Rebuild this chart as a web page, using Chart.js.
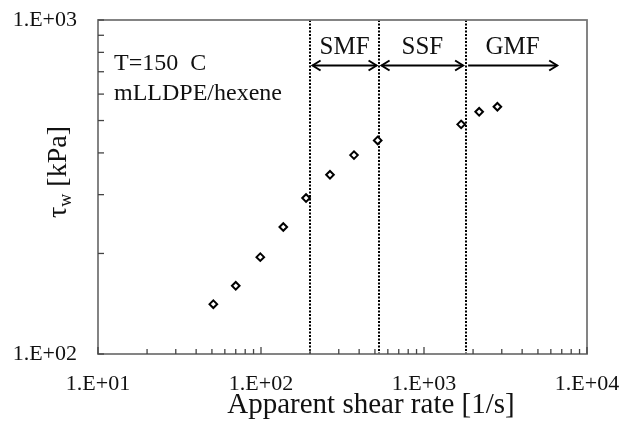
<!DOCTYPE html>
<html>
<head>
<meta charset="utf-8">
<script src="https://cdn.jsdelivr.net/npm/chart.js@4.4.1/dist/chart.umd.min.js"></script>
<style>
  html, body { margin: 0; padding: 0; background: #fff; }
  #wrap { width: 624px; height: 431px; }
</style>
</head>
<body>
<div id="wrap"><canvas id="flowChart" width="624" height="431"></canvas></div>
<script>
// ---- data ----
const shearRate = [51, 70, 99, 137, 189, 265, 372, 520, 1690, 2180, 2820];   // 1/s
const wallStress = [141, 160, 195, 240, 293, 344, 394, 436, 487, 531, 550];  // kPa
const regimeBounds = [200, 530, 1800, 6800];
const regimeLabels = ['SMF', 'SSF', 'GMF'];
const arrowLevel = 733;   // kPa, height of the regime arrows
const xMajor = [10, 100, 1000, 10000];
const xTickLabels = ['1.E+01', '1.E+02', '1.E+03', '1.E+04'];
const yMajor = [100, 1000];
const yTickLabels = ['1.E+02', '1.E+03'];
const noteLines = ['T=150  C', 'mLLDPE/hexene'];

const SERIF = "'Liberation Serif', 'Times New Roman', serif";
const INK = '#111';

// minor log ticks 2..9 per decade
function logTicks(majors) {
    const out = [];
    majors.forEach((m, i) => {
        out.push(m);
        if (i < majors.length - 1) for (let k = 2; k <= 9; k++) out.push(m * k);
    });
    return out;
}

function arrowHead(ctx, x, y, dir) {
    ctx.beginPath();
    ctx.moveTo(x - dir * 8, y - 5);
    ctx.lineTo(x, y);
    ctx.lineTo(x - dir * 8, y + 5);
    ctx.stroke();
}

// keep label overhang from shrinking the plot area
function noOverhang(s) {
    s.paddingTop = 0; s.paddingBottom = 0; s.paddingLeft = 0; s.paddingRight = 0;
}

const decorPlugin = {
    id: 'decor',
    beforeDatasetsDraw(chart) {
        const { ctx, chartArea: a, scales: { x, y } } = chart;
        ctx.save();

        // regime boundaries (dotted)
        ctx.strokeStyle = '#000';
        ctx.lineWidth = 2;
        ctx.setLineDash([2, 1.5]);
        regimeBounds.slice(0, 3).forEach((v) => {
            const px = Math.round(x.getPixelForValue(v));
            ctx.beginPath();
            ctx.moveTo(px, a.top);
            ctx.lineTo(px, a.bottom);
            ctx.stroke();
        });
        ctx.setLineDash([]);

        // frame
        ctx.strokeStyle = '#777';
        ctx.lineWidth = 1.8;
        ctx.strokeRect(a.left, a.top, a.right - a.left, a.bottom - a.top);

        // inward ticks
        ctx.strokeStyle = '#444';
        ctx.lineWidth = 1.3;
        x.ticks.forEach((t) => {
            const px = x.getPixelForValue(t.value);
            const len = xMajor.includes(t.value) ? 7 : 5;
            ctx.beginPath();
            ctx.moveTo(px, a.bottom);
            ctx.lineTo(px, a.bottom - len);
            ctx.stroke();
        });
        y.ticks.forEach((t) => {
            const py = y.getPixelForValue(t.value);
            ctx.beginPath();
            ctx.moveTo(a.left, py);
            ctx.lineTo(a.left + 6, py);
            ctx.stroke();
        });

        // regime arrows + labels
        const ay = Math.round(y.getPixelForValue(arrowLevel)) + 0.5;
        ctx.strokeStyle = '#000';
        ctx.lineWidth = 2;
        ctx.fillStyle = INK;
        ctx.font = '25px ' + SERIF;
        ctx.textAlign = 'center';
        ctx.textBaseline = 'alphabetic';
        regimeLabels.forEach((lab, i) => {
            const x0 = x.getPixelForValue(regimeBounds[i]) + 2.5;
            const x1 = x.getPixelForValue(regimeBounds[i + 1]) - 2.5;
            ctx.beginPath();
            ctx.moveTo(x0, ay);
            ctx.lineTo(x1, ay);
            ctx.stroke();
            arrowHead(ctx, x1, ay, 1);
            if (i < 2) arrowHead(ctx, x0, ay, -1);
            ctx.fillText(lab, (x0 + x1) / 2, ay - 12);
        });

        // condition note
        ctx.textAlign = 'left';
        ctx.font = '24px ' + SERIF;
        ctx.fillText(noteLines[0], a.left + 16, a.top + 50);
        ctx.fillText(noteLines[1], a.left + 16, a.top + 80);
        ctx.restore();
    },
    afterDraw(chart) {
        const { ctx } = chart;
        ctx.save();
        ctx.fillStyle = INK;
        ctx.textBaseline = 'alphabetic';

        // x title
        ctx.font = '29px ' + SERIF;
        ctx.textAlign = 'center';
        ctx.fillText('Apparent shear rate [1/s]', 371, 413);

        // y title: tau with subscript w
        ctx.translate(66, 172);
        ctx.rotate(-Math.PI / 2);
        ctx.textAlign = 'left';
        const big = '28px ' + SERIF, small = '18px ' + SERIF;
        ctx.font = big;
        const wTau = ctx.measureText('\u03c4').width;
        const wRest = ctx.measureText(' [kPa]').width;
        ctx.font = small;
        const wSub = ctx.measureText('w').width;
        let cx = -(wTau + wSub + wRest) / 2;
        ctx.font = big;
        ctx.fillText('\u03c4', cx, 0);
        cx += wTau;
        ctx.font = small;
        ctx.fillText('w', cx, 5);
        cx += wSub;
        ctx.font = big;
        ctx.fillText(' [kPa]', cx, 0);
        ctx.restore();
    }
};

new Chart(document.getElementById('flowChart'), {
    type: 'scatter',
    data: {
        datasets: [{
            data: shearRate.map((v, i) => ({ x: v, y: wallStress[i] })),
            pointStyle: 'rectRot',
            pointRadius: 3.8,
            pointBorderWidth: 2,
            pointBorderColor: '#000',
            pointBackgroundColor: '#fff'
        }]
    },
    options: {
        responsive: false,
        animation: false,
        layout: { padding: { top: 20, right: 37, left: 0, bottom: 0 } },
        plugins: { legend: { display: false }, tooltip: { enabled: false } },
        scales: {
            x: {
                type: 'logarithmic',
                min: 10,
                max: 10000,
                afterBuildTicks: (s) => { s.ticks = logTicks(xMajor).map((v) => ({ value: v })); },
                afterFit: (s) => { s.height = 77; noOverhang(s); },
                grid: { display: false, drawTicks: false },
                border: { display: false },
                ticks: {
                    autoSkip: false,
                    maxRotation: 0,
                    padding: 17,
                    color: INK,
                    font: { family: SERIF, size: 22 },
                    callback: (v) => {
                        const i = xMajor.indexOf(v);
                        return i >= 0 ? xTickLabels[i] : '';
                    }
                }
            },
            y: {
                type: 'logarithmic',
                min: 100,
                max: 1000,
                afterBuildTicks: (s) => { s.ticks = logTicks(yMajor).map((v) => ({ value: v })); },
                afterFit: (s) => { s.width = 98; noOverhang(s); },
                grid: { display: false, drawTicks: false },
                border: { display: false },
                ticks: {
                    autoSkip: false,
                    padding: 21,
                    color: INK,
                    font: { family: SERIF, size: 22 },
                    callback: (v) => {
                        const i = yMajor.indexOf(v);
                        return i >= 0 ? yTickLabels[i] : '';
                    }
                }
            }
        }
    },
    plugins: [decorPlugin]
});
</script>
</body>
</html>
